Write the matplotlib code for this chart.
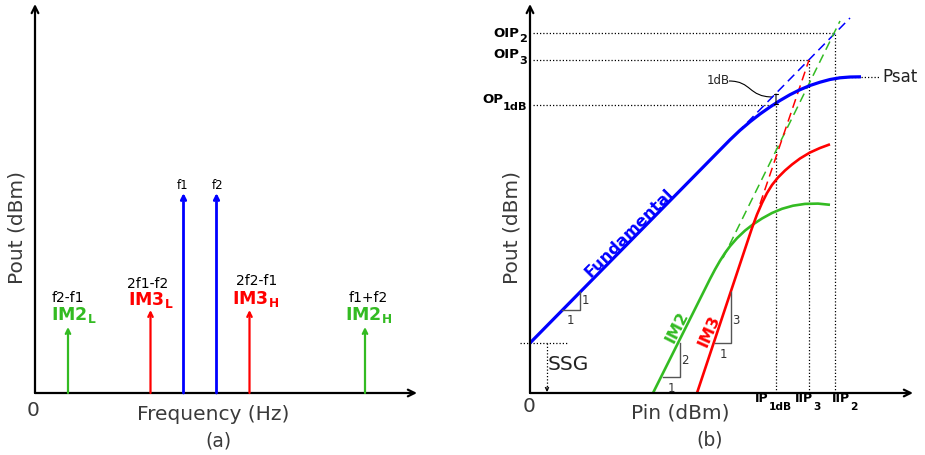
import matplotlib
matplotlib.use("Agg")
import matplotlib.pyplot as plt
from matplotlib.path import Path
from matplotlib.patches import PathPatch

BLUE = "#0000ff"
RED = "#ff0000"
GREEN = "#33bb22"
TEXT = "#3a3a3a"
DOT = (0, (1, 1.6))  # fine dotted guide lines

# ---- panel (a): output spectrum, frequency in units of the tone spacing ----
spec_freq = [1.0, 3.5, 4.5, 5.5, 6.5, 10.0]
spec_pout = [66, 83, 200, 200, 83, 66]
spec_colors = [GREEN, RED, BLUE, BLUE, RED, GREEN]
spec_formula = ["f2-f1", "2f1-f2", "f1", "f2", "2f2-f1", "f1+f2"]
spec_names = [r"$\mathbf{IM2}_{\mathbf{L}}$", r"$\mathbf{IM3}_{\mathbf{L}}$", "", "",
              r"$\mathbf{IM3}_{\mathbf{H}}$", r"$\mathbf{IM2}_{\mathbf{H}}$"]
# label placement relative to the top of each stem (x in tone spacings, y in px)
formula_dx = [0.0, -0.08, -0.04, 0.02, 0.21, 0.1]
formula_dy = [25, 22, 4, 4, 25, 25]
name_dx = [0.17, 0.0, 0, 0, 0.19, 0.1]
name_dy = [7, 5, 0, 0, 6, 7]

# ---- panel (b): Pout vs Pin (1 unit = 1 dB) ----
SSG = 50
IP1DB, OP1DB = 246, 288
IIP3, OIP3 = 279, 333
IIP2, OIP2 = 305, 360
PSAT = 316

fund_pin = [0, 100, 180, 200, 210, 220, 230, 240, 250, 260, 270, 280, 290, 300, 310, 320, 331]
fund_pout = [50, 151.6, 232.9, 253.2, 262.7, 271.2, 279, 286, 292.5, 298.3, 303.3,
             307.5, 310.8, 313.5, 315.2, 316, 316.2]
im2_pin = [123, 150, 175, 180, 185, 190, 195, 200, 207, 215, 223, 232, 242, 252, 263,
           275, 288, 300]
im2_pout = [0, 54, 104, 114, 123.5, 132.2, 140, 146.8, 154.8, 162.4, 168.6, 174.5,
            180, 184.2, 187.3, 189.1, 189.4, 188.2]
im3_pin = [167, 200, 215, 222, 227, 232, 237, 242, 248, 255, 262, 270, 280, 290, 300]
im3_pout = [0, 99, 144, 165, 178.5, 190, 200, 208, 215.5, 222.5, 228.5, 234.5, 240.5,
            245, 248.7]

# extrapolated (small-signal) lines
fund_ext_pin, fund_ext_pout = [207, 320], [260, 375]
im2_ext_pin, im2_ext_pout = [193, 310], [135, 372]
im3_ext_pin, im3_ext_pout = [230, IIP3], [189, OIP3]

# slope triangles: (x points, y points, labels)
triangles = [
    ([32, 50, 50], [83, 83, 101], [(40, 72, "1"), (55, 92, "1")]),
    ([133, 150, 150], [16, 16, 50], [(141, 5, "1"), (155, 33, "2")]),
    ([185, 201, 201], [50, 50, 101], [(193, 39, "1"), (206, 72, "3")]),
]


def axis_arrow(ax, x0, y0, x1, y1):
    ax.annotate("", xy=(x1, y1), xytext=(x0, y0),
                arrowprops=dict(arrowstyle="->", lw=1.6, color="black",
                                shrinkA=0, shrinkB=0, mutation_scale=12))


def sub_label(ax, x, y, main, sub, size, drop, right=False):
    kw = dict(fontweight="bold", color="black", va="baseline")
    if right:
        s = ax.text(x, y - drop, sub, ha="right", fontsize=size * 0.85, **kw)
        ax.annotate(main, xy=(0, y), xycoords=(s, "data"), ha="right", fontsize=size, **kw)
    else:
        m = ax.text(x, y, main, ha="left", fontsize=size, **kw)
        ax.annotate(sub, xy=(1, y - drop), xycoords=(m, "data"), ha="left",
                    fontsize=size * 0.85, **kw)


fig = plt.figure(figsize=(9.25, 4.55), dpi=100)

# panel (a): 1 x-unit = 33 px, 1 y-unit = 1 px
ax1 = fig.add_axes([0, 0, 0.5, 1])
ax1.set_xlim(-35 / 33, 427.5 / 33)
ax1.set_ylim(-62, 393)
ax1.axis("off")

axis_arrow(ax1, 0, 0, 382 / 33, 0)
axis_arrow(ax1, 0, 0, 0, 389)

for i in range(len(spec_freq)):
    lw = 2.0 if spec_colors[i] == BLUE else 1.6
    ax1.annotate("", xy=(spec_freq[i], spec_pout[i]), xytext=(spec_freq[i], 0),
                 arrowprops=dict(arrowstyle="->", lw=lw, color=spec_colors[i],
                                 shrinkA=0, shrinkB=0, mutation_scale=8))
    size = 8.5 if spec_names[i] == "" else 10
    ax1.text(spec_freq[i] + formula_dx[i], spec_pout[i] + formula_dy[i], spec_formula[i],
             ha="center", va="baseline", fontsize=size, color="black")
    if spec_names[i]:
        ax1.text(spec_freq[i] + name_dx[i], spec_pout[i] + name_dy[i], spec_names[i],
                 ha="center", va="baseline", fontsize=12.5, color=spec_colors[i])

ax1.text(-0.06, -17, "0", ha="center", va="center", fontsize=14.5, color=TEXT)
ax1.text(5.39, -22, "Frequency (Hz)", ha="center", va="center", fontsize=14.5, color=TEXT)
ax1.text(5.55, -48, "(a)", ha="center", va="center", fontsize=13.5, color=TEXT)
ax1.text(-0.545, 165, "Pout (dBm)", rotation=90, ha="center", va="center",
         fontsize=14.5, color=TEXT)

# panel (b): 1 unit = 1 px on both axes
ax2 = fig.add_axes([0.5, 0, 0.5, 1])
ax2.set_xlim(-67.5, 395)
ax2.set_ylim(-62, 393)
ax2.axis("off")

# dotted guides
ax2.plot([3, IIP2], [OIP2, OIP2], color="black", lw=0.9, ls=DOT)
ax2.plot([3, IIP3], [OIP3, OIP3], color="black", lw=0.9, ls=DOT)
ax2.plot([3, IP1DB], [OP1DB, OP1DB], color="black", lw=0.9, ls=DOT)
ax2.plot([IIP2, IIP2], [0, OIP2], color="black", lw=0.9, ls=DOT)
ax2.plot([IIP3, IIP3], [0, OIP3], color="black", lw=0.9, ls=DOT)
ax2.plot([IP1DB, IP1DB], [0, OP1DB], color="black", lw=0.9, ls=DOT)
ax2.plot([IIP2, 350], [PSAT, PSAT], color="black", lw=0.9, ls=DOT)
ax2.plot([-10, 37], [SSG, SSG], color="black", lw=0.9, ls=DOT)
ax2.plot([17, 17], [SSG, 3], color="black", lw=0.9, ls=DOT)
ax2.annotate("", xy=(17, 1), xytext=(17, 6),
             arrowprops=dict(arrowstyle="->", lw=0.8, color="black",
                             shrinkA=0, shrinkB=0, mutation_scale=6))

axis_arrow(ax2, 0, 0, 383, 0)
axis_arrow(ax2, 0, 0, 0, 389)

# extrapolations
ax2.plot(fund_ext_pin, fund_ext_pout, color=BLUE, lw=1.1, ls=(0, (6, 3.5)))
ax2.plot(im2_ext_pin, im2_ext_pout, color=GREEN, lw=1.1, ls=(0, (6, 3.5)))
ax2.plot(im3_ext_pin, im3_ext_pout, color=RED, lw=1.1, ls=(0, (6, 3.5)))

# measured curves
ax2.plot(fund_pin, fund_pout, color=BLUE, lw=2.3, solid_capstyle="butt", solid_joinstyle="round")
ax2.plot(im2_pin, im2_pout, color=GREEN, lw=1.9, solid_capstyle="butt", solid_joinstyle="round")
ax2.plot(im3_pin, im3_pout, color=RED, lw=1.9, solid_capstyle="butt", solid_joinstyle="round")

for tx, ty, labels in triangles:
    ax2.plot(tx, ty, color="#555555", lw=1.0)
    for lx, ly, s in labels:
        ax2.text(lx, ly, s, ha="center", va="center", fontsize=8.5, color="#333333")

ax2.text(99, 160, "Fundamental", rotation=45, rotation_mode="anchor", ha="center",
         va="center", color=BLUE, fontweight="bold", fontsize=11.5)
ax2.text(147, 66, "IM2", rotation=63, rotation_mode="anchor", ha="center",
         va="center", color=GREEN, fontweight="bold", fontsize=11.5)
ax2.text(179, 62, "IM3", rotation=66, rotation_mode="anchor", ha="center",
         va="center", color=RED, fontweight="bold", fontsize=11.5)

# 1 dB compression marker
ax2.annotate("", xy=(IP1DB, OP1DB + 1), xytext=(IP1DB, OP1DB + 11),
             arrowprops=dict(arrowstyle="|-|", lw=0.8, color="black",
                             shrinkA=0, shrinkB=0, mutation_scale=1.5))
leader = Path([(199, 312), (222, 312), (218, 296), (243, 296)],
              [Path.MOVETO, Path.CURVE4, Path.CURVE4, Path.CURVE4])
ax2.add_patch(PathPatch(leader, fc="none", ec="black", lw=0.8))
ax2.text(177, 312, "1dB", ha="left", va="center", fontsize=8.5, color="#222222")

ax2.text(352, PSAT, "Psat", ha="left", va="center", fontsize=12, color="#222222")
ax2.text(18, 28, "SSG", ha="left", va="center", fontsize=14.5, color="#222222")

sub_label(ax2, -2.5, 356, "OIP", "2", 9.5, 5, right=True)
sub_label(ax2, -2.5, 335, "OIP", "3", 9.5, 6, right=True)
sub_label(ax2, -2.5, 290, "OP", "1dB", 9.5, 7, right=True)
sub_label(ax2, 225, -9, "IP", "1dB", 9, 8)
sub_label(ax2, 265, -9, "IIP", "3", 9, 8)
sub_label(ax2, 302, -9, "IIP", "2", 9, 8)

ax2.text(-1, -14, "0", ha="center", va="center", fontsize=14.5, color=TEXT)
ax2.text(150, -20, "Pin (dBm)", ha="center", va="center", fontsize=14.5, color=TEXT)
ax2.text(180, -47, "(b)", ha="center", va="center", fontsize=13.5, color=TEXT)
ax2.text(-18, 165, "Pout (dBm)", rotation=90, ha="center", va="center",
         fontsize=14.5, color=TEXT)

fig.savefig("out.png", dpi=100)
